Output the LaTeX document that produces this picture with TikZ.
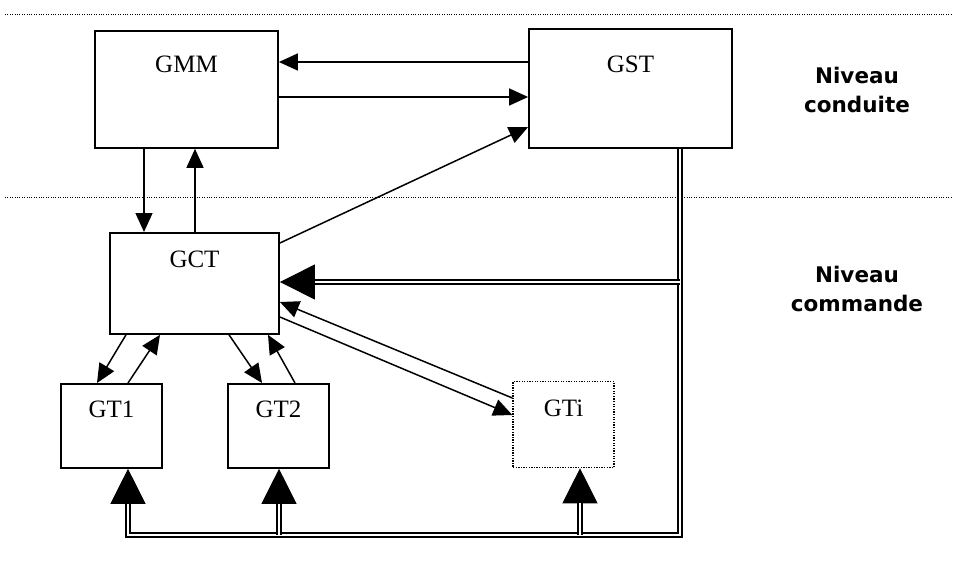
\documentclass[tikz,border=0pt]{standalone}
\usepackage{fontspec}
\setmainfont{Liberation Serif}
\newfontfamily\levelfont{DejaVu Sans}
\usetikzlibrary{arrows.meta}

\begin{document}
\begin{tikzpicture}[
		x=1pt, y=-1pt,
		box/.style = {rectangle, draw, line width=1.8pt, inner sep=0pt, anchor=north, font=\fontsize{25}{30}\selectfont},
		dbox/.style = {box, line width=1.3pt, dash pattern=on 1.3pt off 1.3pt},
		arr/.style = {-{Triangle[length=19pt,width=17pt]}, line width=1.5pt},
		bus/.style = {double, double distance=2pt, line width=1.6pt},
		bigtip/.style = {-{Triangle[length=35pt,width=35pt]}, line width=1pt},
		sep/.style = {line width=0.9pt, dash pattern=on 1pt off 1.4pt},
		lvl/.style = {align=center, font=\levelfont\bfseries\fontsize{21.5}{29}\selectfont},
		]
		\useasboundingbox (0,0) rectangle (953,562);
		
		% === === Levels === ===
		\draw[sep]	(5,14)	--	(953,14);
		\draw[sep]	(5,197)	--	(953,197);
		\node[lvl]	(condlvl)	at	(857,90)	{Niveau\\conduite};
		\node[lvl]	(cmdlvl)	at	(857,289)	{Niveau\\commande};
		
		% === === Nodes === ===
		\node[box, minimum width=183pt, text height=42pt, text depth=75pt]	(gmm)	at	(186.5,30)	{GMM};
		\node[box, minimum width=203pt, text height=44pt, text depth=75pt]	(gst)	at	(630.5,28)	{GST};
		\node[box, minimum width=169pt, text height=35pt, text depth=66pt]	(gct)	at	(194.5,232)	{GCT};
		\node[box, minimum width=101pt, text height=34pt, text depth=50pt]	(gt1)	at	(111.5,383)	{GT1};
		\node[box, minimum width=101pt, text height=34pt, text depth=50pt]	(gt2)	at	(278.5,383)	{GT2};
		\node[dbox, minimum width=101pt, text height=35pt, text depth=51pt]	(gti)	at	(563.5,381)	{GTi};
		
		\coordinate	(busR)	at	(680,535);
		\coordinate	(tap1)	at	(128,535);
		\coordinate	(tap2)	at	(279,535);
		\coordinate	(tapi)	at	(580,535);
		\coordinate	(tapc)	at	(680,282);
		
		% === === Lines === ===
		\draw[arr]	(gst.west |- 0,62)	--	(gmm.east |- 0,62);
		\draw[arr]	(gmm.east |- 0,97)	--	(gst.west |- 0,97);
		\draw[arr]	(gct.east |- 0,243)	--	(gst.west |- 0,127);
		\draw[arr]	(gmm.south -| 144,0)	--	(gct.north -| 144,0);
		\draw[arr]	(gct.north -| 195,0)	--	(gmm.south -| 195,0);
		\draw[arr]	(gct.south -| 126,0)	--	(gt1.north -| 97,0);
		\draw[arr]	(gt1.north -| 128,0)	--	(gct.south -| 160,0);
		\draw[arr]	(gct.south -| 229,0)	--	(gt2.north -| 262,0);
		\draw[arr]	(gt2.north -| 295,0)	--	(gct.south -| 268,0);
		\draw[arr]	(gct.east |- 0,317)	--	(gti.west |- 0,415);
		\draw[arr]	(gti.west |- 0,398)	--	(gct.east |- 0,302);
		
		% === === Bus === ===
		\draw[bigtip]	(tap1)	--	(gt1.south -| tap1);
		\draw[bigtip]	(tap2)	--	(gt2.south -| tap2);
		\draw[bigtip]	(tapi)	--	(gti.south -| tapi);
		\draw[bigtip]	(tapc)	--	(gct.east |- tapc);
		\draw[bus, shorten >=35pt]	(gst.south -| busR)	--	(busR)	--	(tap1)	--	(gt1.south -| tap1);
		\draw[bus, shorten >=35pt]	(tap2)	--	(gt2.south -| tap2);
		\draw[bus, shorten >=35pt]	(tapi)	--	(gti.south -| tapi);
		\draw[bus, shorten >=35pt]	(tapc)	--	(gct.east |- tapc);
		
	\end{tikzpicture}
\end{document}
